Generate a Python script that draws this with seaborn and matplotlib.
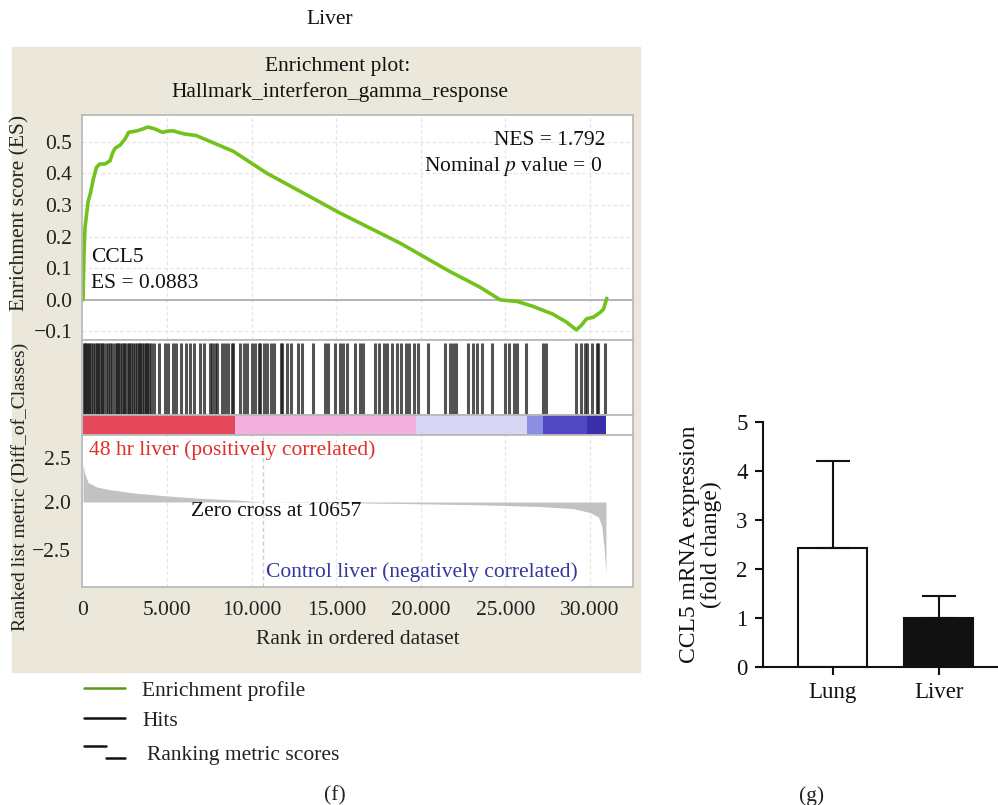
import numpy as np
import pandas as pd
import seaborn as sns
import matplotlib.pyplot as plt
from matplotlib.patches import Rectangle
from matplotlib.lines import Line2D

sns.set_theme(style="white")
plt.rcParams['font.family'] = ['Liberation Serif', 'DejaVu Serif']
plt.rcParams['mathtext.fontset'] = 'stix'

# ---- data (f): running enrichment score ----
es_rank = [0, 60, 120, 300, 450, 600, 800, 1000, 1300, 1600, 1750, 1900, 2200, 2350, 2500, 2700,
           3200, 3500, 3850, 4300, 4700, 5000, 5300, 6000, 6700, 8900, 10900, 12800, 15200,
           18750, 21700, 23500, 24700, 25700, 26600, 27800, 28600, 29200, 29500, 29800, 30200,
           30600, 30800, 31000]
es_val = [0, 0.15, 0.23, 0.31, 0.34, 0.38, 0.42, 0.43, 0.43, 0.44, 0.465, 0.48, 0.49, 0.50,
          0.51, 0.53, 0.535, 0.54, 0.547, 0.54, 0.53, 0.534, 0.535, 0.525, 0.52, 0.47, 0.40,
          0.345, 0.275, 0.18, 0.09, 0.04, 0.0, -0.005, -0.02, -0.045, -0.07, -0.095, -0.08,
          -0.06, -0.055, -0.04, -0.03, 0.005]

# gene set hits (rank positions)
hit_ranks = [50, 100, 200, 280, 350, 450, 600, 700, 800, 900, 1000, 1100, 1200, 1350, 1450,
             1600, 1700, 1900, 2000, 2100, 2200, 2300, 2400, 2500, 2650, 2750, 2850, 2950, 3050,
             3200, 3300, 3400, 3500, 3600, 3700, 3800, 3900, 4000, 4200, 4500, 4850, 5050, 5350,
             5500, 5800, 6100, 6350, 6550, 6950, 7150, 7500, 7650, 7800, 7950, 8200, 8400, 8600,
             8800, 8900, 9300, 9500, 9700, 10000, 10200, 10400, 10500, 10700, 10900, 11100,
             11300, 11700, 11800, 12100, 12300, 12700, 12950, 13600, 14300, 14500, 14900, 15200,
             15400, 15600, 16100, 16400, 16600, 17300, 17500, 17800, 18000, 18300, 18600, 18800,
             19100, 19300, 19600, 19800, 20400, 21400, 21700, 21900, 22100, 22800, 23100, 23300,
             23600, 24200, 25000, 25200, 25500, 25700, 26200, 27200, 27400, 29200, 29500, 29700,
             29800, 30100, 30400, 30500, 30900]

# ranked list metric
metric_rank = [0, 100, 300, 800, 1500, 3000, 5000, 7000, 9000, 10657, 15000, 20000, 24000,
               27000, 29000, 30000, 30500, 30700, 30850, 30950]
metric_val = [1.25, 0.95, 0.65, 0.5, 0.42, 0.3, 0.2, 0.12, 0.07, 0.0, -0.02, -0.06, -0.1,
              -0.15, -0.22, -0.35, -0.5, -0.8, -1.6, -2.4]
zero_cross = 10657

# colour bar of the ranked list
band_edges = [0, 9000, 19700, 26300, 27200, 29800, 30950]
band_colors = ['#e4485a', '#f2b0de', '#d8d6f4', '#8a8ee0', '#5048c0', '#3a2eaa']

x_ticks = [0, 5000, 10000, 15000, 20000, 25000, 30000]
x_ticklabels = ['0', '5.000', '10.000', '15.000', '20.000', '25.000', '30.000']
es_ticks = [-0.1, 0.0, 0.1, 0.2, 0.3, 0.4, 0.5]
metric_ticks = [1.47, 0.0, -1.6]
metric_ticklabels = ['2.5', '2.0', '\u22122.5']

# ---- data (g) ----
groups = ['Lung', 'Liver']
means = [2.42, 1.0]
err_up = [1.78, 0.45]

W, H = 998, 805
fig = plt.figure(figsize=(W / 100, H / 100), dpi=100)


def rect(l, t, r, b):
    return [l / W, 1 - b / H, (r - l) / W, (b - t) / H]


def fxy(px, py):
    return px / W, 1 - py / H


# beige GSEA background
fig.patches.append(Rectangle(fxy(12, 672), (640 - 12) / W, (672 - 47) / H,
                             transform=fig.transFigure, color='#ebe7da', zorder=-5))

XL = (-60, 32550)
grid_c = '#e6e6e6'
spine_c = '#b8b8b8'
fs = 15.5
fg = 16.5

# ES panel
ax_es = fig.add_axes(rect(82, 115, 633, 340))
ax_es.set_facecolor('white')
for x in x_ticks[1:]:
    ax_es.axvline(x, color=grid_c, lw=0.9, ls=(0, (3, 2)), zorder=0)
for y in es_ticks:
    ax_es.axhline(y, color=grid_c, lw=0.9, ls=(0, (3, 2)), zorder=0)
ax_es.axhline(0, color='#a8a8a8', lw=1.2, zorder=1)
sns.lineplot(x=es_rank, y=es_val, sort=False, estimator=None, color='#72c21b', lw=2.6, ax=ax_es)
ax_es.set_xlim(*XL)
ax_es.set_ylim(-0.127, 0.585)
ax_es.set_xticks([])
ax_es.set_yticks(es_ticks)
ax_es.set_yticklabels(['\u22120.1', '0.0', '0.1', '0.2', '0.3', '0.4', '0.5'], fontsize=fs)
ax_es.tick_params(axis='y', length=3, color=spine_c, pad=4, colors='#222222')
for s in ax_es.spines.values():
    s.set_color(spine_c)
ax_es.text(0.95, 0.885, 'NES = 1.792', transform=ax_es.transAxes, ha='right', va='center',
           fontsize=fs, color='#111111')
ax_es.text(0.944, 0.77, 'Nominal $p$ value = 0', transform=ax_es.transAxes, ha='right',
           va='center', fontsize=fs, color='#111111')
ax_es.text(0.016, 0.365, 'CCL5', transform=ax_es.transAxes, ha='left', va='center',
           fontsize=fs, color='#111111')
ax_es.text(0.016, 0.25, 'ES = 0.0883', transform=ax_es.transAxes, ha='left', va='center',
           fontsize=fs, color='#111111')

# hits panel
ax_hit = fig.add_axes(rect(82, 340, 633, 415))
sns.rugplot(x=hit_ranks, height=0.96, color='#1a1a1a', linewidth=2.2, alpha=0.75, ax=ax_hit,
            expand_margins=False)
ax_hit.set_xlim(*XL)
ax_hit.set_ylim(0, 1)
ax_hit.set_xticks([])
ax_hit.set_yticks([])
for s in ax_hit.spines.values():
    s.set_color(spine_c)

# colour bar
ax_cb = fig.add_axes(rect(82, 415, 633, 435))
for a, b, c in zip(band_edges[:-1], band_edges[1:], band_colors):
    ax_cb.axvspan(a, b, color=c, lw=0)
ax_cb.set_xlim(*XL)
ax_cb.set_xticks([])
ax_cb.set_yticks([])
for s in ax_cb.spines.values():
    s.set_color(spine_c)

# ranked metric panel
ax_m = fig.add_axes(rect(82, 435, 633, 587))
for x in x_ticks[1:]:
    ax_m.axvline(x, color=grid_c, lw=0.9, ls=(0, (3, 2)), zorder=0)
ax_m.axvline(zero_cross, color='#cccccc', lw=1.0, ls=(0, (3, 2)), zorder=0)
ax_m.fill_between(metric_rank, metric_val, 0, color='#c2c2c2', lw=0)
ax_m.set_xlim(*XL)
ax_m.set_ylim(-2.83, 2.23)
ax_m.set_yticks(metric_ticks)
ax_m.set_yticklabels(metric_ticklabels, fontsize=fs)
ax_m.set_xticks(x_ticks)
ax_m.set_xticklabels(x_ticklabels, fontsize=fs)
ax_m.tick_params(axis='both', length=3, color=spine_c, pad=7, colors='#222222')
ax_m.tick_params(axis='y', pad=5)
for s in ax_m.spines.values():
    s.set_color(spine_c)
ax_m.text(0.012, 0.9, '48 hr liver (positively correlated)', transform=ax_m.transAxes,
          ha='left', va='center', fontsize=fs, color='#e03028')
ax_m.text(0.352, 0.5, 'Zero cross at 10657', transform=ax_m.transAxes, ha='center',
          va='center', fontsize=fs, color='#111111')
ax_m.text(0.9, 0.1, 'Control liver (negatively correlated)', transform=ax_m.transAxes,
          ha='right', va='center', fontsize=fs, color='#3636a0')
ax_m.set_xlabel('Rank in ordered dataset', fontsize=fs, color='#222222', labelpad=7)

# titles / axis labels of (f)
fig.text(*fxy(338, 67), 'Enrichment plot:', ha='center', va='center', fontsize=fs, color='#111111')
fig.text(*fxy(340, 92), 'Hallmark_interferon_gamma_response', ha='center', va='center',
         fontsize=fs, color='#111111')
fig.text(*fxy(20, 213), 'Enrichment score (ES)', rotation=90, ha='center', va='center',
         fontsize=fs, color='#222222')
fig.text(*fxy(20, 487), 'Ranked list metric (Diff_of_Classes)', rotation=90, ha='center',
         va='center', fontsize=14, color='#222222')
fig.text(*fxy(330, 19), 'Liver', ha='center', va='center', fontsize=fs, color='#111111')

# legend of (f)
fig.add_artist(Line2D([84 / W, 125 / W], [1 - 688 / H] * 2, color='#5a9a10', lw=1.8))
fig.add_artist(Line2D([84 / W, 125 / W], [1 - 718 / H] * 2, color='#111111', lw=1.8))
fig.add_artist(Line2D([84 / W, 106 / W], [1 - 746 / H] * 2, color='#111111', lw=1.8))
fig.add_artist(Line2D([106 / W, 125 / W], [1 - 758 / H] * 2, color='#111111', lw=1.8))
fig.text(*fxy(142, 691), 'Enrichment profile', ha='left', va='center', fontsize=fs, color='#222222')
fig.text(*fxy(142, 721), 'Hits', ha='left', va='center', fontsize=fs, color='#222222')
fig.text(*fxy(147, 755), 'Ranking metric scores', ha='left', va='center', fontsize=fs,
         color='#222222')
fig.text(*fxy(335, 796), '(f)', ha='center', va='center', fontsize=fs, color='#222222')
fig.text(*fxy(812, 796), '(g)', ha='center', va='center', fontsize=fs, color='#222222')

# ---- (g) bar chart ----
ax_g = fig.add_axes(rect(763, 422, 997, 667))
df_g = pd.DataFrame({'group': groups, 'mean': means})
sns.barplot(data=df_g, x='group', y='mean', hue='group', palette=['white', '#111111'],
            edgecolor='#111111', linewidth=1.5, width=0.65, legend=False, ax=ax_g)
ax_g.errorbar(x=[0, 1], y=means, yerr=[[0, 0], err_up], fmt='none', ecolor='#111111',
              elinewidth=1.5, capsize=12.5, capthick=1.5)
ax_g.set_xlim(-0.66, 1.55)
ax_g.set_ylim(0, 5)
ax_g.set_yticks([0, 1, 2, 3, 4, 5])
ax_g.set_yticklabels(['0', '1', '2', '3', '4', '5'], fontsize=fg)
ax_g.set_xticks([0, 1])
ax_g.set_xticklabels(groups, fontsize=fg)
ax_g.tick_params(axis='both', length=6, width=1.5, color='#111111', colors='#111111', pad=5,
                 left=True, bottom=True)
sns.despine(ax=ax_g)
ax_g.spines['left'].set_linewidth(1.5)
ax_g.spines['bottom'].set_linewidth(1.5)
ax_g.spines['left'].set_color('#111111')
ax_g.spines['bottom'].set_color('#111111')
ax_g.set_xlabel('')
ax_g.set_ylabel('CCL5 mRNA expression\n(fold change)', fontsize=17, color='#111111',
                labelpad=10, linespacing=1.05)

fig.savefig('out.png', dpi=100)
